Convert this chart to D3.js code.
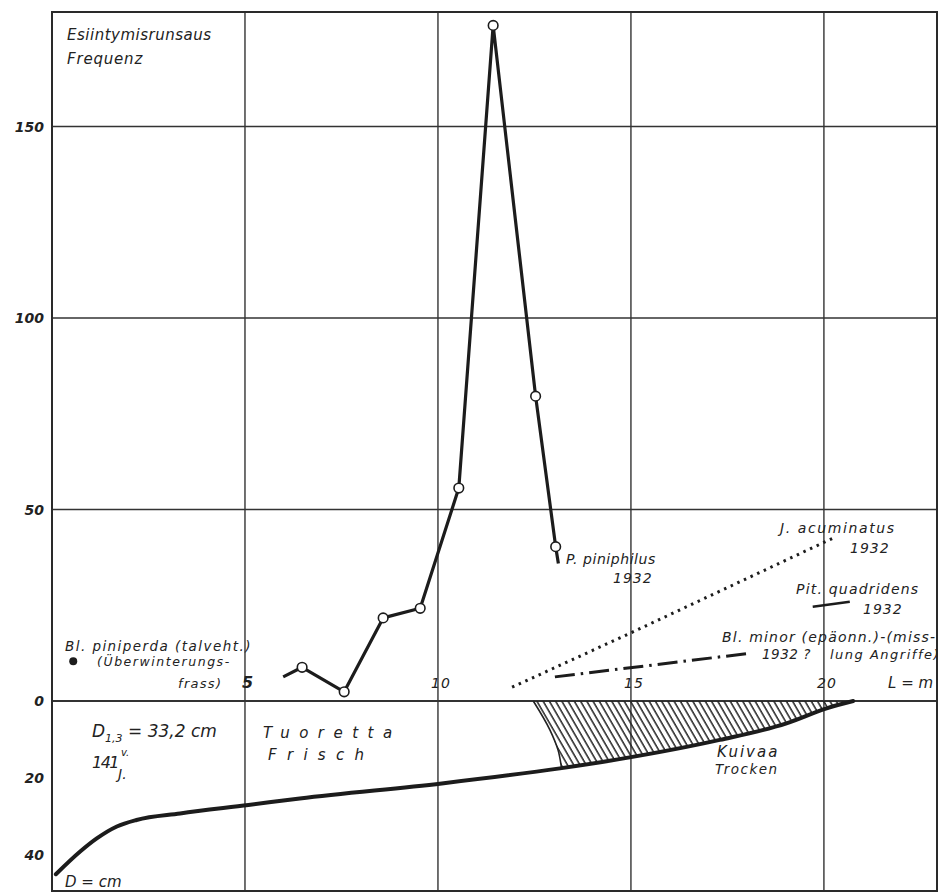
<!DOCTYPE html>
<html>
<head>
<meta charset="utf-8">
<script src="https://cdn.jsdelivr.net/npm/d3@7"></script>
<style>
    body { margin: 0; background: #fff; }
    svg text { font-family: "DejaVu Sans", sans-serif; font-style: italic; fill: #222; }
</style>
</head>
<body>
<div id="chart"></div>
<script>

// axis ticks
const lengthTicks = [5, 10, 15, 20];
const freqTicks = [50, 100, 150];
const diamTicks = [20, 40];

// P. piniphilus 1932 (first and last point have no circle)
const piniphilusL = [5.99, 6.48, 7.57, 8.58, 9.54, 10.54, 11.43, 12.53, 13.05, 13.12];
const piniphilusFreq = [6.3, 8.8, 2.4, 21.7, 24.2, 55.6, 176.4, 79.6, 40.3, 35.9];
const piniphilusCircle = [false, true, true, true, true, true, true, true, true, false];

// J. acuminatus 1932 (dotted)
const acuminatusL = [11.92, 15.0, 20.23];
const acuminatusFreq = [3.6, 17.8, 42.5];

// Bl. minor 1932 (dash-dot)
const minorL = [13.03, 18.03];
const minorFreq = [6.3, 12.4];

// Pit. quadridens 1932
const quadridensL = [19.71, 20.67];
const quadridensFreq = [24.6, 25.9];

// Bl. piniperda, winter feeding
const piniperdaL = [0.55];
const piniperdaFreq = [10.4];

// stem diameter profile, D in cm
const stemL = [0.1, 0.73, 1.16, 1.68, 2.19, 3.32, 5.09, 6.42, 10.1, 13.16, 14.7, 17.3, 19.03, 20.07, 20.76];
const stemD = [45, 39.1, 35.7, 32.6, 30.9, 29.2, 27.0, 25.3, 21.4, 17.5, 15.1, 10.1, 5.8, 1.9, 0];

// border between fresh and dry part
const dryEdgeL = [12.47, 12.9, 13.11, 13.2];
const dryEdgeD = [0, 7.5, 12.7, 17.3];


class ProfileChart {

    constructor(parentElement) {
        this.parentElement = parentElement;
        this.initVis();
    }

    initVis() {
        let vis = this;
        vis.width = 945;
        vis.height = 892;
        vis.frame = {left: 52, right: 937, top: 12, bottom: 891};

        vis.svg = d3.select("#" + vis.parentElement).append("svg")
            .attr("width", vis.width)
            .attr("height", vis.height);

        vis.x = d3.scaleLinear().domain([0, 22.93]).range([vis.frame.left, vis.frame.right]);
        vis.y = d3.scaleLinear().domain([0, 150]).range([701, 126.5]);
        vis.yD = d3.scaleLinear().domain([0, 40]).range([701, 855]);

        // hatch pattern for the dry part
        vis.svg.append("defs").append("pattern")
            .attr("id", "hatch")
            .attr("patternUnits", "userSpaceOnUse")
            .attr("width", 5.4)
            .attr("height", 10)
            .attr("patternTransform", "rotate(-30)")
            .append("line")
            .attr("x1", 1).attr("y1", 0)
            .attr("x2", 1).attr("y2", 10)
            .attr("stroke", "#222")
            .attr("stroke-width", 1.5);

        vis.updateVis();
    }

    updateVis() {
        let vis = this;
        let f = vis.frame;

        // grid
        let grid = vis.svg.append("g").attr("class", "grid");
        grid.selectAll(".vgrid")
            .data(lengthTicks)
            .enter().append("line")
            .attr("x1", d => vis.x(d)).attr("x2", d => vis.x(d))
            .attr("y1", f.top).attr("y2", f.bottom)
            .attr("stroke", "#333").attr("stroke-width", 1.4);
        grid.selectAll(".hgrid")
            .data([0].concat(freqTicks))
            .enter().append("line")
            .attr("x1", f.left).attr("x2", f.right)
            .attr("y1", d => vis.y(d)).attr("y2", d => vis.y(d))
            .attr("stroke", "#333").attr("stroke-width", d => d === 0 ? 1.8 : 1.4);

        grid.append("rect")
            .attr("x", f.left).attr("y", f.top)
            .attr("width", f.right - f.left).attr("height", f.bottom - f.top)
            .attr("fill", "none").attr("stroke", "#2a2a2a").attr("stroke-width", 2);

        // tick labels
        vis.svg.selectAll(".ylab")
            .data([0].concat(freqTicks))
            .enter().append("text")
            .attr("x", 44).attr("y", d => vis.y(d) + 5)
            .attr("text-anchor", "end")
            .attr("font-size", 14).attr("font-weight", "bold")
            .text(d => d);
        vis.svg.selectAll(".dlab")
            .data(diamTicks)
            .enter().append("text")
            .attr("x", 44).attr("y", d => vis.yD(d) + 5)
            .attr("text-anchor", "end")
            .attr("font-size", 14).attr("font-weight", "bold")
            .text(d => d);
        vis.svg.selectAll(".xlab")
            .data(lengthTicks)
            .enter().append("text")
            .attr("x", d => vis.x(d) + 3).attr("y", 688)
            .attr("text-anchor", "middle")
            .attr("font-size", d => d === 5 ? 16 : 14)
            .attr("font-weight", d => d === 5 ? "bold" : "normal")
            .attr("letter-spacing", 1)
            .text(d => d);

        // hatched dry part
        let hatchPts = dryEdgeL.map((d, i) => [vis.x(d), vis.yD(dryEdgeD[i])]);
        stemL.forEach((d, i) => {
            if (d > dryEdgeL[dryEdgeL.length - 1]) hatchPts.push([vis.x(d), vis.yD(stemD[i])]);
        });
        vis.svg.append("path")
            .attr("d", d3.line()(hatchPts) + "Z")
            .attr("fill", "url(#hatch)")
            .attr("stroke", "none");
        vis.svg.append("path")
            .datum(dryEdgeL.map((d, i) => [d, dryEdgeD[i]]))
            .attr("fill", "none").attr("stroke", "#222").attr("stroke-width", 1.6)
            .attr("d", d3.line().curve(d3.curveMonotoneY)
                .x(d => vis.x(d[0])).y(d => vis.yD(d[1])));

        // stem profile
        vis.svg.append("path")
            .datum(stemL.map((d, i) => [d, stemD[i]]))
            .attr("fill", "none").attr("stroke", "#1c1c1c").attr("stroke-width", 4)
            .attr("stroke-linecap", "round")
            .attr("d", d3.line().curve(d3.curveMonotoneX)
                .x(d => vis.x(d[0])).y(d => vis.yD(d[1])));

        let freqLine = d3.line().x(d => vis.x(d[0])).y(d => vis.y(d[1]));

        // J. acuminatus
        vis.svg.append("path")
            .datum(acuminatusL.map((d, i) => [d, acuminatusFreq[i]]))
            .attr("fill", "none").attr("stroke", "#1c1c1c").attr("stroke-width", 3)
            .attr("stroke-dasharray", "2.5 4.8")
            .attr("d", freqLine);

        // Bl. minor
        vis.svg.append("path")
            .datum(minorL.map((d, i) => [d, minorFreq[i]]))
            .attr("fill", "none").attr("stroke", "#1c1c1c").attr("stroke-width", 3)
            .attr("stroke-dasharray", "20 6 2.5 6")
            .attr("d", freqLine);

        // Pit. quadridens
        vis.svg.append("path")
            .datum(quadridensL.map((d, i) => [d, quadridensFreq[i]]))
            .attr("fill", "none").attr("stroke", "#1c1c1c").attr("stroke-width", 2.5)
            .attr("d", freqLine);

        // P. piniphilus
        let pp = piniphilusL.map((d, i) => [d, piniphilusFreq[i], piniphilusCircle[i]]);
        vis.svg.append("path")
            .datum(pp)
            .attr("fill", "none").attr("stroke", "#1c1c1c").attr("stroke-width", 3.2)
            .attr("stroke-linejoin", "round")
            .attr("d", freqLine);
        vis.svg.selectAll(".pp-circle")
            .data(pp.filter(d => d[2]))
            .enter().append("circle")
            .attr("cx", d => vis.x(d[0])).attr("cy", d => vis.y(d[1]))
            .attr("r", 4.8)
            .attr("fill", "#fff").attr("stroke", "#1c1c1c").attr("stroke-width", 1.6);

        // Bl. piniperda
        vis.svg.selectAll(".bp")
            .data(piniperdaL.map((d, i) => [d, piniperdaFreq[i]]))
            .enter().append("circle")
            .attr("cx", d => vis.x(d[0])).attr("cy", d => vis.y(d[1]))
            .attr("r", 4).attr("fill", "#1c1c1c");

        // annotations
        let label = (x, y, txt, size, opts = {}) => vis.svg.append("text")
            .attr("x", x).attr("y", y)
            .attr("font-size", size)
            .attr("font-weight", opts.weight || "normal")
            .attr("letter-spacing", opts.spacing || 0)
            .attr("text-anchor", opts.anchor || "start")
            .text(txt);

        label(67, 40, "Esiintymisrunsaus", 15, {spacing: 0.5});
        label(67, 64, "Frequenz", 15, {spacing: 0.8, weight: 300});

        label(566, 564, "P. piniphilus", 14, {spacing: 0.55});
        label(613, 583, "1932", 14, {spacing: 1});
        label(780, 533, "J. acuminatus", 14, {spacing: 1.6});
        label(850, 553, "1932", 14, {spacing: 1});
        label(796, 594, "Pit. quadridens", 14, {spacing: 1.2});
        label(863, 614, "1932", 14, {spacing: 1});
        label(722, 642, "Bl. minor (epäonn.)-(miss-", 14, {spacing: 1.2});
        label(762, 659, "1932 ?", 13.5, {spacing: 0.5});
        label(830, 659, "lung Angriffe)", 13, {spacing: 1.5});
        label(888, 688, "L = m", 15);

        label(65, 651, "Bl. piniperda (talveht.)", 13.5, {spacing: 1.45});
        label(97, 666, "(Überwinterungs-", 12.5, {spacing: 1.55});
        label(178, 688, "frass)", 13, {spacing: 1.3});

        let dText = label(92, 737, "D", 17);
        dText.append("tspan").attr("font-size", 11).attr("dy", 5).text("1,3");
        dText.append("tspan").attr("dy", -5).text(" = 33,2 cm");
        label(92, 768, "141", 16, {spacing: -1.5});
        label(121, 756, "v.", 10);
        label(118, 779, "J.", 14);

        label(263, 738, "Tuoretta", 15, {spacing: 9.5});
        label(268, 760, "Frisch", 15, {spacing: 10.3, weight: 300});
        label(717, 757, "Kuivaa", 15, {spacing: 2});
        label(715, 774, "Trocken", 13.5, {spacing: 1.5, weight: 300});
        label(65, 887, "D = cm", 15);
    }
}

new ProfileChart("chart");
</script>
</body>
</html>
